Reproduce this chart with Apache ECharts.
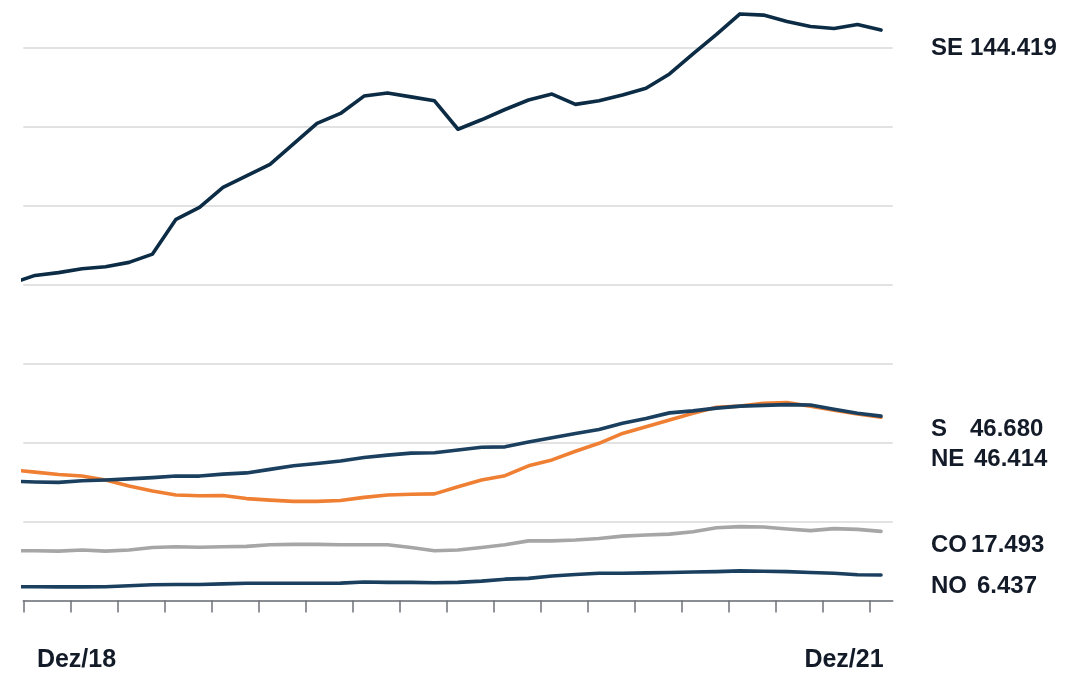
<!DOCTYPE html>
<html>
<head>
<meta charset="utf-8">
<script src="https://cdn.jsdelivr.net/npm/echarts@6/dist/echarts.min.js"></script>
<style>
html, body { margin: 0; padding: 0; background: #fff; }
#container { width: 1089px; height: 677px; }
</style>
</head>
<body>
<div id="container"></div>
<script>
// monthly periods, first one (Nov/18) only feeds the clipped lead-in segment
var periods = ['Nov/18','Dez/18','Jan/19','Fev/19','Mar/19','Abr/19','Mai/19','Jun/19','Jul/19','Ago/19','Set/19','Out/19','Nov/19','Dez/19',
  'Jan/20','Fev/20','Mar/20','Abr/20','Mai/20','Jun/20','Jul/20','Ago/20','Set/20','Out/20','Nov/20','Dez/20',
  'Jan/21','Fev/21','Mar/21','Abr/21','Mai/21','Jun/21','Jul/21','Ago/21','Set/21','Out/21','Nov/21','Dez/21'];
var shownLabels = ['Dez/18', 'Dez/21'];

var seValues = [80.3, 82.3, 83.0, 84.0, 84.5, 85.6, 87.7, 96.5, 99.5, 104.6, 107.5, 110.4, 115.6, 120.8, 123.3, 127.7, 128.5, 127.5, 126.5,
  119.3, 121.7, 124.3, 126.7, 128.2, 125.6, 126.5, 128.0, 129.7, 133.3, 138.4, 143.3, 148.5, 148.2, 146.6, 145.3, 144.8, 145.8, 144.419];
var neValues = [33.1, 32.5, 31.9, 31.5, 30.5, 29.0, 27.7, 26.7, 26.5, 26.6, 25.8, 25.4, 25.1, 25.1, 25.3, 26.1, 26.7, 26.9, 27.0,
  28.8, 30.5, 31.6, 34.1, 35.6, 37.8, 39.8, 42.3, 44.0, 45.7, 47.4, 48.9, 49.2, 49.9, 50.1, 49.2, 48.2, 47.2, 46.414];
var sValues = [30.2, 30.0, 29.9, 30.3, 30.5, 30.8, 31.1, 31.5, 31.5, 32.0, 32.3, 33.2, 34.1, 34.7, 35.3, 36.2, 36.8, 37.3, 37.4,
  38.1, 38.8, 38.9, 40.1, 41.2, 42.3, 43.3, 44.9, 46.1, 47.5, 48.0, 48.7, 49.2, 49.4, 49.6, 49.5, 48.4, 47.4, 46.680];
var coValues = [12.6, 12.6, 12.5, 12.8, 12.5, 12.8, 13.4, 13.6, 13.5, 13.6, 13.7, 14.1, 14.2, 14.2, 14.1, 14.1, 14.1, 13.4, 12.6,
  12.8, 13.4, 14.1, 15.1, 15.1, 15.3, 15.7, 16.3, 16.6, 16.8, 17.4, 18.4, 18.7, 18.6, 18.1, 17.7, 18.2, 18.0, 17.493];
var noValues = [3.5, 3.5, 3.45, 3.45, 3.5, 3.75, 4.0, 4.05, 4.05, 4.2, 4.35, 4.35, 4.35, 4.35, 4.4, 4.7, 4.6, 4.6, 4.5,
  4.6, 4.9, 5.4, 5.6, 6.2, 6.6, 6.9, 6.9, 7.0, 7.1, 7.2, 7.3, 7.5, 7.4, 7.3, 7.1, 6.9, 6.5, 6.437];

var myChart = echarts.init(document.getElementById('container'));

function toPoints(values) {
  var pts = [];
  for (var i = 0; i < values.length; i++) {
    pts.push([i - 1, values[i]]);
  }
  return pts;
}

// ticks on every other month boundary
var tickValues = [];
var i;
for (i = 0; i < periods.length - 1; i += 2) {
  tickValues.push(i - 0.5);
}
var labelValues = [];
for (i = 0; i < shownLabels.length; i++) {
  labelValues.push(periods.indexOf(shownLabels[i]) - 1);
}

var labelFont = 'Liberation Sans, Arial, sans-serif';

function makeLine(name, values, color, width, offset, nameWidth) {
  return {
    name: name,
    type: 'line',
    data: toPoints(values),
    showSymbol: false,
    symbol: 'none',
    lineStyle: { color: color, width: width, cap: 'round', join: 'round' },
    itemStyle: { color: color },
    animation: false,
    endLabel: {
      show: true,
      offset: offset,
      align: 'left',
      verticalAlign: 'middle',
      formatter: function (p) {
        return '{n|' + p.seriesName + '}{v|' + p.value[1].toFixed(3) + '}';
      },
      rich: {
        n: { width: nameWidth, fontFamily: labelFont, fontWeight: 'bold', fontSize: 24, color: '#131b28' },
        v: { fontFamily: labelFont, fontWeight: 'bold', fontSize: 24, color: '#131b28' }
      }
    }
  };
}

var option = {
  animation: false,
  grid: { left: 23.25, right: 196.25, top: 8, bottom: 76.5 },
  xAxis: {
    type: 'value',
    min: -0.5,
    max: periods.length - 2 + 0.5,
    splitLine: { show: false },
    axisLine: { show: true, onZero: false, lineStyle: { color: '#6d7178', width: 1.5 } },
    axisTick: { show: true, customValues: tickValues, length: 12, lineStyle: { color: '#6d7178', width: 1.5 } },
    axisLabel: {
      show: true,
      customValues: labelValues,
      margin: 47,
      formatter: function (v) {
        var s = periods[Math.round(v) + 1];
        return (s === shownLabels[0] ? '{l|' : '{r|') + s + '}';
      },
      rich: {
        l: { padding: [0, 0, 0, 83], fontFamily: labelFont, fontWeight: 'bold', fontSize: 25, color: '#131b28' },
        r: { padding: [0, 74, 0, 0], fontFamily: labelFont, fontWeight: 'bold', fontSize: 25, color: '#131b28' }
      }
    }
  },
  yAxis: {
    type: 'value',
    min: 0,
    max: 150,
    interval: 20,
    axisLine: { show: false },
    axisTick: { show: false },
    axisLabel: { show: false },
    splitLine: { show: true, showMaxLine: false, lineStyle: { color: '#d9d9d9', width: 1.5 } }
  },
  series: [
    makeLine('SE', seValues, '#0c2c45', 3.6, [42, 18.5], 39),
    makeLine('NE', neValues, '#ef7f33', 3.6, [42, 42], 43),
    makeLine('S', sValues, '#1b3f5e', 3.6, [42, 13], 39),
    makeLine('CO', coValues, '#a6a6a6', 3.6, [42, 14], 40),
    makeLine('NO', noValues, '#1b3f5e', 3.6, [42, 11], 46)
  ]
};

myChart.setOption(option);
</script>
</body>
</html>
